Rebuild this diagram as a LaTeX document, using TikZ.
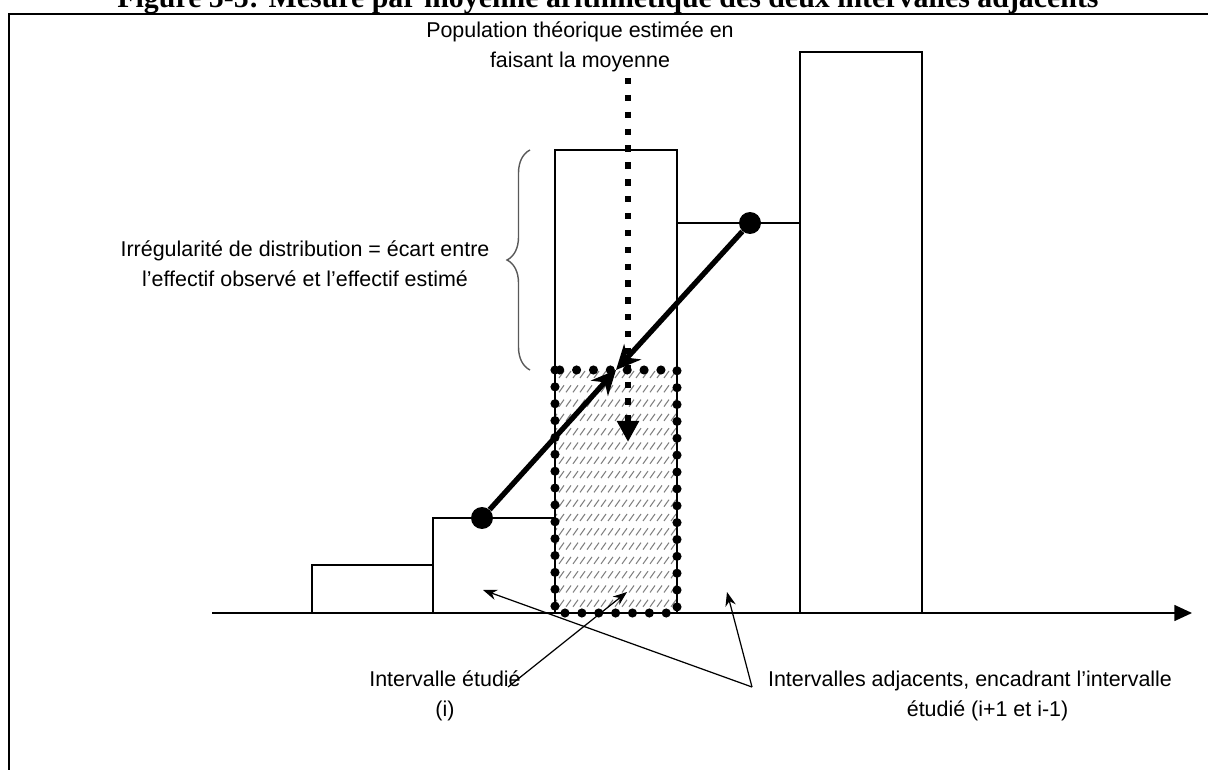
\documentclass[tikz,border=0pt]{standalone}
\usepackage{fontspec}
\setmainfont{Liberation Sans}
\newfontfamily\titlefont{Liberation Serif}
\usetikzlibrary{arrows.meta,decorations.pathreplacing}

\begin{document}
\begin{tikzpicture}[x=0.02cm,y=-0.02cm,
    every node/.style={inner sep=0pt, align=center, font=\fontsize{12.2}{17}\selectfont},
    bar/.style={draw, line width=1pt},
    hatch/.style={draw=gray, line width=0.6pt},
    dot/.style={circle, fill=black, minimum size=0.44cm},
    thick arrow/.style={line width=3pt, -{Stealth[length=14pt,width=13pt]}},
    thin arrow/.style={line width=0.7pt, -{Stealth[length=8pt,width=6pt]}}]
    \useasboundingbox (0,0) rectangle (1208,770);
    \clip (0,0) rectangle (1208,770);

    \node[anchor=base, font=\titlefont\bfseries\fontsize{17}{20}\selectfont] (title) at (608,8)
      {Figure 5-5: Mesure par moyenne arithmétique des deux intervalles adjacents};
    \draw[line width=1.7pt] (9,775) -- (9,14) -- (1215,14);

    \begin{scope}
      \clip (555,370) rectangle (677,613);
      \foreach \r in {0,...,17}
        \foreach \c in {0,...,18}
          \draw[hatch] (552+\c*7,378+\r*14.3) -- ++(5,-7);
    \end{scope}

    \foreach \xa/\xb/\h in {312/433/565,433/555/518,555/677/150,677/800/223,800/922/52}
      \draw[bar] (\xa,613) -- (\xa,\h) -- (\xb,\h) -- (\xb,613);

    \coordinate (o) at (212,613);
    \coordinate (xend) at (1192,613);
    \draw[line width=1pt, -{Triangle[length=10pt,width=9pt]}] (o) -- (xend);

    \draw[line width=5.2pt, line cap=round, dash pattern=on 0pt off 9.6pt] (555,370) rectangle (677,613);

    \draw[gray!70!black, line width=0.8pt, decorate, decoration={brace, amplitude=0.46cm}] (530,370) -- (530,150);

    \node (pop) at (580,47) {Population théorique estimée en\\faisant la moyenne};
    \coordinate (ptop) at (628,78);
    \coordinate (pbot) at (628,442);
    \draw[line width=3.6pt, dash pattern=on 3.6pt off 6pt, -{Triangle[length=12pt,width=12pt]}] (ptop) -- (pbot);

    \node[dot] (p1) at (482,518) {};
    \node[dot] (p2) at (750,223) {};
    \coordinate (mid) at (616,370);
    \foreach \from in {p1,p2}
      \draw[thick arrow] (\from) -- (mid);

    \node (irr) at (305,264) {Irrégularité de distribution = écart entre\\l’effectif observé et l’effectif estimé};

    \node (etud) at (445,696) {Intervalle étudié\\(i)};
    \node (adj) at (970,696) {Intervalles adjacents, encadrant l’intervalle\\\hspace*{20pt}étudié (i+1 et i-1)};

    \coordinate (etudA) at (508,687);
    \coordinate (adjA) at (752,687);
    \coordinate (inI) at (627,592);
    \coordinate (inL) at (483,590);
    \coordinate (inR) at (727,592);
    \foreach \from/\to in {etudA/inI,adjA/inL,adjA/inR}
      \draw[thin arrow] (\from) -- (\to);
\end{tikzpicture}
\end{document}
